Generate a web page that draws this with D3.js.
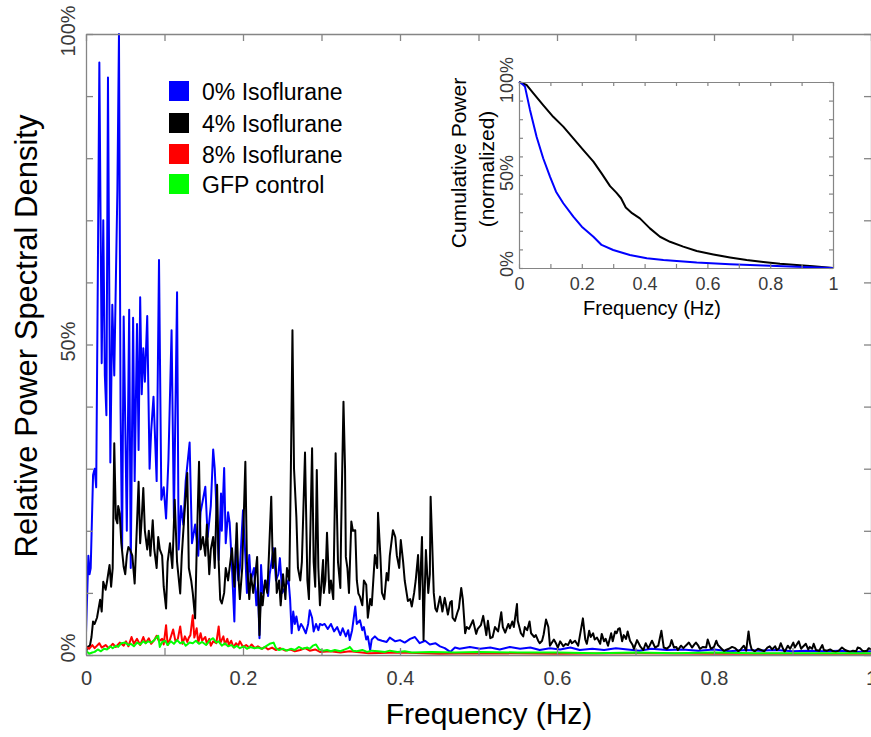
<!DOCTYPE html>
<html><head><meta charset="utf-8">
<script src="https://cdn.jsdelivr.net/npm/d3@7"></script>
<style>
body{margin:0;background:#fff}
svg{display:block}
text{font-family:"Liberation Sans",Arial,Helvetica,sans-serif}
</style>
</head><body>
<svg id="chart" width="871" height="737"></svg>
<script>
// ---------- DATA (frequency in Hz, relative power in %) ----------
const seriesNames = ["0% Isoflurane", "4% Isoflurane", "8% Isoflurane", "GFP control"];
const seriesColors = ["#0000ff", "#000000", "#ff0000", "#00ff00"];

const psd0 = [[0,3.5],[0.003,16],[0.0045,13],[0.006,14],[0.009,29],[0.011,30],[0.013,27],[0.015,60],[0.017,95.4],[0.020,47],[0.022,70],[0.024,45],[0.026,38.6],[0.028,93],[0.031,31],[0.0335,56.4],[0.036,45],[0.038,60],[0.040,75],[0.042,100],[0.044,40],[0.046,17],[0.048,54.5],[0.052,20],[0.055,55.6],[0.057,14],[0.060,54.3],[0.062,28],[0.065,53.3],[0.067,33],[0.069,57.6],[0.071,42],[0.073,49.4],[0.075,44],[0.078,54.6],[0.081,30],[0.083,36],[0.086,41.6],[0.090,28],[0.093,63.6],[0.096,25],[0.099,27],[0.102,22],[0.105,31.4],[0.109,52.3],[0.112,22],[0.116,58.4],[0.118,17],[0.121,24],[0.124,21],[0.127,28],[0.132,34.2],[0.135,18],[0.139,21],[0.143,16],[0.146,23],[0.152,27.1],[0.155,19],[0.159,24],[0.162,33.1],[0.164,30],[0.169,15.3],[0.172,26],[0.173,20],[0.176,30.1],[0.178,18],[0.181,23],[0.183,21.3],[0.186,14],[0.189,5.4],[0.191,18],[0.194,12],[0.196,14],[0.200,23.3],[0.203,16],[0.205,10],[0.208,16.1],[0.210,12],[0.214,14],[0.217,8],[0.219,11],[0.221,2.7],[0.223,14.5],[0.225,10],[0.229,12],[0.232,9.5],[0.234,13],[0.239,17.2],[0.242,12],[0.245,13],[0.247,15.6],[0.250,10],[0.254,11],[0.258,12.1],[0.260,9],[0.262,3.5],[0.264,7],[0.266,5],[0.268,6.2],[0.271,4],[0.274,5],[0.276,4.6],[0.280,3.5],[0.283,5],[0.285,7.2],[0.288,6],[0.290,3.8],[0.293,5],[0.296,4],[0.298,5],[0.301,4.8],[0.304,5],[0.308,4.2],[0.312,5],[0.316,3.8],[0.320,4.5],[0.324,3.2],[0.327,4.3],[0.331,3],[0.334,4],[0.336,2.4],[0.339,4],[0.343,7.8],[0.345,5],[0.349,5.6],[0.352,4],[0.354,4.5],[0.357,2.5],[0.359,3],[0.362,0.8],[0.364,2.5],[0.368,3],[0.372,2.5],[0.377,2.3],[0.383,2.1],[0.387,2.8],[0.394,2.2],[0.400,2.4],[0.406,2.0],[0.413,2.6],[0.419,2.9],[0.425,1.9],[0.432,2.3],[0.438,1.7],[0.445,1.9],[0.451,1.4],[0.457,1.1],[0.464,0.5],[0.470,1.2],[0.476,1.0],[0.489,1.3],[0.502,1.0],[0.515,1.2],[0.527,0.9],[0.540,1.3],[0.553,1.0],[0.566,1.2],[0.578,0.8],[0.591,1.1],[0.604,0.9],[0.617,1.2],[0.629,0.8],[0.645,1.0],[0.660,0.8],[0.675,1.1],[0.690,0.9],[0.705,0.7],[0.720,1.0],[0.740,0.8],[0.760,0.9],[0.780,0.7],[0.800,0.9],[0.820,0.6],[0.840,0.8],[0.860,0.7],[0.880,0.8],[0.900,0.6],[0.920,0.7],[0.940,0.6],[0.960,0.7],[0.980,0.5],[1.000,0.6]];

const psd4 = [[0,0.5],[0.002,1.3],[0.005,1.5],[0.007,2.9],[0.009,5.4],[0.011,5.0],[0.014,6],[0.018,8.9],[0.020,7],[0.022,11.8],[0.025,10.5],[0.027,12],[0.030,14.5],[0.032,11],[0.034,14],[0.036,34.1],[0.038,22],[0.040,21.2],[0.041,24],[0.043,22.8],[0.045,18],[0.048,14.2],[0.050,13],[0.052,16],[0.054,17.4],[0.056,17],[0.059,16],[0.062,11.5],[0.064,18],[0.067,27.9],[0.069,18],[0.071,22],[0.073,26.9],[0.075,20],[0.078,17],[0.080,20],[0.082,16],[0.085,21.7],[0.087,17],[0.090,14],[0.092,19],[0.094,17],[0.097,16],[0.099,11],[0.102,7.5],[0.104,15],[0.107,18],[0.110,14],[0.113,25],[0.116,15],[0.120,9.9],[0.122,16],[0.125,22],[0.129,29.3],[0.131,14],[0.134,12],[0.136,10],[0.139,5.9],[0.141,17],[0.144,31.1],[0.146,17],[0.149,19],[0.152,16],[0.154,21],[0.157,13],[0.159,17],[0.162,19],[0.164,14],[0.167,27.4],[0.169,15],[0.171,8.9],[0.173,8.3],[0.176,10],[0.178,14],[0.181,12],[0.186,17.2],[0.189,11],[0.192,21.2],[0.194,13],[0.196,9],[0.199,14],[0.203,31.1],[0.205,15],[0.208,9],[0.210,13],[0.213,10],[0.215,12],[0.218,15.8],[0.221,3.2],[0.223,10],[0.225,8],[0.228,12],[0.231,10],[0.233,16],[0.236,25.5],[0.238,14],[0.241,17.2],[0.243,10],[0.246,12],[0.248,8],[0.251,13],[0.254,9],[0.256,14],[0.259,12],[0.261,30],[0.263,52.3],[0.265,30],[0.268,22.2],[0.270,14],[0.273,12],[0.275,15],[0.279,32.6],[0.282,12],[0.284,9],[0.288,33.3],[0.290,15],[0.292,11],[0.294,29.8],[0.296,14],[0.298,8],[0.302,15.3],[0.303,10],[0.305,12],[0.307,19.7],[0.310,10],[0.312,12],[0.315,9],[0.318,32.5],[0.321,15],[0.324,10.8],[0.325,20],[0.328,40.8],[0.330,30],[0.331,15.8],[0.333,14],[0.335,10],[0.338,21.5],[0.340,20],[0.343,20.1],[0.345,12],[0.347,9.9],[0.349,9.4],[0.352,8],[0.354,12],[0.357,11.3],[0.359,6],[0.362,9],[0.364,8],[0.368,16.1],[0.371,14],[0.372,22.9],[0.375,16],[0.377,10],[0.380,9],[0.383,13.2],[0.385,12],[0.387,16],[0.391,20.1],[0.394,19],[0.396,16],[0.399,14],[0.401,18.5],[0.404,15],[0.406,12],[0.410,8.7],[0.413,9],[0.415,7.8],[0.418,10],[0.420,12],[0.423,16.1],[0.425,9],[0.428,19],[0.430,2.4],[0.431,8],[0.433,16.9],[0.436,10],[0.438,13],[0.439,25.5],[0.441,18],[0.443,10],[0.445,7.5],[0.447,7],[0.451,9.4],[0.454,7],[0.456,8.5],[0.457,9.2],[0.461,6.5],[0.464,8.5],[0.466,8.7],[0.467,6],[0.470,5.5],[0.473,6.8],[0.475,7.5],[0.478,10.8],[0.480,9],[0.483,3.5],[0.485,4.5],[0.488,4.2],[0.493,5.6],[0.497,3.4],[0.499,4.2],[0.503,4.8],[0.506,6.3],[0.510,3.2],[0.512,5.5],[0.515,2.7],[0.518,2.9],[0.521,4.5],[0.525,3.8],[0.529,6.9],[0.531,4.5],[0.534,3.6],[0.538,5],[0.540,4.3],[0.543,5.4],[0.545,4.5],[0.549,8.2],[0.550,5.5],[0.554,3.5],[0.557,3],[0.559,4.5],[0.562,4],[0.565,5.4],[0.567,3.5],[0.571,2.9],[0.573,3.2],[0.576,2.3],[0.578,1.9],[0.581,2.3],[0.583,3.3],[0.586,5.7],[0.589,4.5],[0.591,1.5],[0.594,2.1],[0.596,2.5],[0.599,1.8],[0.601,1.2],[0.604,2.2],[0.608,1.4],[0.611,1.8],[0.614,1.6],[0.617,2.4],[0.619,1.9],[0.623,2.3],[0.627,1.5],[0.629,3.0],[0.633,5.9],[0.636,2.5],[0.638,1.8],[0.641,3.9],[0.643,2.9],[0.646,3.5],[0.648,2.5],[0.651,2.8],[0.655,1.8],[0.657,3.4],[0.660,2.2],[0.662,2.6],[0.665,1.5],[0.669,3.5],[0.671,2.2],[0.674,3.8],[0.676,3.5],[0.678,4.2],[0.680,4.3],[0.683,2.2],[0.685,3.2],[0.688,2.6],[0.690,3.8],[0.693,2.3],[0.696,1.7],[0.698,1.0],[0.702,2.4],[0.706,1.4],[0.710,0.8],[0.713,1.9],[0.716,1.1],[0.718,1.5],[0.721,2.3],[0.725,1.2],[0.729,1.5],[0.733,3.9],[0.736,1.2],[0.740,1.0],[0.744,1.5],[0.746,2.4],[0.749,1.2],[0.752,1.3],[0.754,0.8],[0.758,1.5],[0.761,1.1],[0.764,1.5],[0.768,2.0],[0.772,1.2],[0.775,1.7],[0.777,2.0],[0.780,1.5],[0.782,1.0],[0.786,1.3],[0.790,1.2],[0.792,2.5],[0.796,1.0],[0.800,1.3],[0.803,2.3],[0.805,1.6],[0.809,1.1],[0.813,0.6],[0.815,0.8],[0.819,1.0],[0.823,1.3],[0.827,1.1],[0.831,0.6],[0.834,0.9],[0.838,1.5],[0.841,0.7],[0.844,3.8],[0.846,1.8],[0.848,0.9],[0.852,0.6],[0.856,1.0],[0.860,0.8],[0.864,0.6],[0.868,1.2],[0.871,1.4],[0.874,0.9],[0.878,1.4],[0.880,0.8],[0.883,1.1],[0.885,1.9],[0.888,1.0],[0.890,0.5],[0.894,1.5],[0.897,1.0],[0.901,2.0],[0.903,1.2],[0.906,1.8],[0.908,2.2],[0.911,1.0],[0.913,1.3],[0.917,1.8],[0.920,0.9],[0.922,1.3],[0.925,1.0],[0.927,1.8],[0.930,0.8],[0.934,0.7],[0.938,1.6],[0.940,0.8],[0.944,0.7],[0.948,0.9],[0.952,0.6],[0.955,0.5],[0.959,0.7],[0.963,1.2],[0.967,0.8],[0.971,0.6],[0.973,0.5],[0.977,0.7],[0.981,0.6],[0.983,1.2],[0.986,1.1],[0.989,0.7],[0.991,0.6],[0.995,0.7],[0.997,1.1],[1.000,0.9]];

const psd8 = [[0,1.3],[0.004,1.0],[0.008,1.6],[0.011,1.1],[0.017,1.9],[0.020,1.2],[0.025,1.6],[0.029,1.1],[0.034,1.8],[0.038,1.3],[0.043,2.0],[0.048,1.5],[0.051,2.2],[0.054,1.4],[0.058,2.9],[0.061,1.8],[0.065,2.6],[0.069,1.6],[0.073,2.9],[0.076,1.9],[0.080,2.7],[0.083,1.8],[0.087,2.4],[0.090,3.1],[0.093,2.2],[0.097,2.6],[0.099,1.7],[0.102,4.8],[0.104,1.6],[0.107,2.5],[0.111,4.1],[0.114,2.2],[0.117,2.6],[0.120,4.6],[0.123,1.8],[0.126,3.0],[0.129,2.1],[0.131,2.8],[0.133,3.2],[0.136,6.4],[0.138,2.8],[0.141,4.3],[0.143,2.0],[0.146,3.5],[0.148,2.3],[0.152,2.9],[0.154,1.8],[0.157,2.6],[0.159,1.5],[0.162,2.2],[0.166,1.9],[0.169,4.6],[0.171,1.9],[0.175,3.0],[0.177,1.7],[0.180,2.6],[0.182,1.6],[0.185,2.3],[0.188,1.2],[0.191,1.9],[0.194,1.5],[0.196,2.2],[0.200,1.3],[0.204,1.6],[0.208,1.2],[0.211,1.7],[0.215,1.1],[0.219,1.4],[0.224,1.0],[0.228,1.3],[0.232,0.9],[0.237,1.2],[0.242,0.8],[0.247,1.1],[0.254,0.7],[0.260,0.9],[0.266,0.6],[0.273,0.8],[0.279,1.1],[0.285,0.7],[0.292,0.9],[0.298,0.5],[0.311,0.6],[0.324,0.4],[0.336,0.6],[0.360,0.3],[0.400,0.4],[0.450,0.2],[0.500,0.3],[0.600,0.2],[0.700,0.3],[0.800,0.2],[0.900,0.2],[1.000,0.2]];

const psdGFP = [[0,0.7],[0.004,0.2],[0.008,0.4],[0.011,0.5],[0.015,0.9],[0.019,0.6],[0.023,1.0],[0.027,0.9],[0.031,1.4],[0.034,1.1],[0.038,1.5],[0.041,1.3],[0.045,1.9],[0.050,2.0],[0.054,1.6],[0.057,1.8],[0.061,1.4],[0.065,2.0],[0.069,1.7],[0.073,2.2],[0.076,1.9],[0.079,2.2],[0.083,2.0],[0.087,2.4],[0.090,2.9],[0.092,3.1],[0.094,1.3],[0.097,2.1],[0.101,2.3],[0.104,1.6],[0.108,2.2],[0.112,1.8],[0.116,2.4],[0.120,1.9],[0.124,2.1],[0.127,1.5],[0.132,2.0],[0.136,1.9],[0.140,2.3],[0.144,1.8],[0.148,2.1],[0.153,1.6],[0.158,2.4],[0.162,2.7],[0.166,2.0],[0.169,2.2],[0.173,1.5],[0.177,1.9],[0.181,1.4],[0.185,1.6],[0.189,1.2],[0.192,1.5],[0.196,1.1],[0.201,1.4],[0.205,1.0],[0.209,1.3],[0.214,1.1],[0.219,1.2],[0.224,1.0],[0.229,1.4],[0.234,1.8],[0.239,2.0],[0.242,1.1],[0.246,0.8],[0.251,1.0],[0.256,0.7],[0.261,1.0],[0.266,0.8],[0.271,1.3],[0.276,1.0],[0.282,1.2],[0.285,1.0],[0.289,1.5],[0.293,1.7],[0.297,0.9],[0.302,0.7],[0.307,0.8],[0.312,0.6],[0.317,0.8],[0.324,0.6],[0.330,0.9],[0.334,1.1],[0.336,1.3],[0.340,0.7],[0.345,0.6],[0.352,0.8],[0.358,0.5],[0.364,0.7],[0.372,0.6],[0.381,0.5],[0.387,0.7],[0.397,0.5],[0.406,0.6],[0.415,0.4],[0.440,0.5],[0.470,0.4],[0.500,0.5],[0.550,0.4],[0.600,0.4],[0.650,0.3],[0.700,0.4],[0.750,0.3],[0.800,0.4],[0.850,0.3],[0.900,0.3],[0.950,0.3],[1.000,0.3]];

// Inset: cumulative power (normalized, %)
const cum0 = [[0,100],[0.010,99],[0.019,97.5],[0.035,85],[0.056,70.6],[0.077,59],[0.099,49],[0.118,41],[0.141,34.8],[0.173,27.6],[0.200,22.2],[0.237,16.8],[0.263,12.4],[0.300,9.7],[0.353,7],[0.407,5.2],[0.460,4.3],[0.566,2.9],[0.672,2],[0.778,1.3],[0.884,0.7],[1,0]];
const cum4 = [[0,100],[0.024,98.4],[0.046,93.9],[0.077,87.6],[0.109,81.3],[0.141,76],[0.173,69.7],[0.205,63.4],[0.237,57.2],[0.263,50.9],[0.290,44],[0.310,40.5],[0.325,37.5],[0.340,32.5],[0.360,29.5],[0.385,26.7],[0.417,21.3],[0.449,16.8],[0.481,14.1],[0.523,11.5],[0.566,9.1],[0.619,7.3],[0.672,5.7],[0.725,4.3],[0.778,3.2],[0.831,2.3],[0.884,1.6],[0.937,0.9],[1,0]];

const xTicks = [0,0.1,0.2,0.3,0.4,0.5,0.6,0.7,0.8,0.9,1];
const xTickLabels = ["0","","0.2","","0.4","","0.6","","0.8","","1"];
const yTicks = [0,10,20,30,40,50,60,70,80,90,100];
const yLabelTicks = [0,50,100];
const yTickLabels = ["0%","50%","100%"];

// ---------- DRAWING ----------
const svg = d3.select("#chart");
const axisColor = "#858585";
const labelColor = "#3a3a3a";

const x = d3.scaleLinear().domain([0,1]).range([86,871]);
const y = d3.scaleLinear().domain([0,100]).range([655,34]);

svg.append("defs").append("clipPath").attr("id","mainClip")
  .append("rect").attr("x",86).attr("y",33).attr("width",785).attr("height",623);

const line = d3.line().x(d=>x(d[0])).y(d=>y(d[1]));
const gData = svg.append("g").attr("clip-path","url(#mainClip)");
[psd0, psd4, psd8, psdGFP].forEach((s,i)=>{
  gData.append("path").datum(s).attr("d",line)
    .attr("fill","none").attr("stroke",seriesColors[i])
    .attr("stroke-width",2).attr("stroke-linejoin","round");
});

function styleAxis(g){
  g.selectAll(".domain").attr("stroke",axisColor).attr("stroke-width",1.3);
  g.selectAll(".tick line").attr("stroke",axisColor).attr("stroke-width",1.3);
}

const gB = svg.append("g").attr("transform","translate(0,655)")
  .call(d3.axisBottom(x).tickValues(xTicks).tickSize(-7).tickSizeOuter(0).tickPadding(16)
    .tickFormat((d,i)=>xTickLabels[i]));
styleAxis(gB);
gB.selectAll("text").attr("font-size",20).attr("fill",labelColor)
  .attr("font-family","'Liberation Sans',Arial,sans-serif");
const gT = svg.append("g").attr("transform","translate(0,34)")
  .call(d3.axisTop(x).tickValues(xTicks).tickSize(-7).tickSizeOuter(0).tickFormat(""));
styleAxis(gT);
const gL = svg.append("g").attr("transform","translate(86,0)")
  .call(d3.axisLeft(y).tickValues(yTicks).tickSize(-7).tickSizeOuter(0).tickFormat(""));
styleAxis(gL);
const gR = svg.append("g").attr("transform","translate(871,0)")
  .call(d3.axisRight(y).tickValues(yTicks).tickSize(-7).tickSizeOuter(0).tickFormat(""));
styleAxis(gR);

yLabelTicks.forEach((v,i)=>{
  svg.append("text")
    .attr("transform",`translate(75,${y(v)-(v===0?7:3)}) rotate(-90)`)
    .attr("text-anchor","middle").attr("font-size",20).attr("fill",labelColor)
    .text(yTickLabels[i]);
});

svg.append("text").attr("transform","translate(37,336) rotate(-90)")
  .attr("text-anchor","middle").attr("font-size",31).attr("fill","#000")
  .text("Relative Power Spectral Density");
svg.append("text").attr("x",489).attr("y",724)
  .attr("text-anchor","middle").attr("font-size",30).attr("fill","#000")
  .text("Frequency (Hz)");

const legY = [81,113,144,174];
seriesNames.forEach((n,i)=>{
  svg.append("rect").attr("x",169).attr("y",legY[i]).attr("width",20).attr("height",20)
    .attr("fill",seriesColors[i]);
  svg.append("text").attr("x",202).attr("y",legY[i]+19).attr("font-size",23)
    .attr("fill","#000").text(n);
});

// ---------- INSET ----------
const xi = d3.scaleLinear().domain([0,1]).range([519,833]);
const yi = d3.scaleLinear().domain([0,100]).range([268,82]);
svg.append("rect").attr("x",519).attr("y",82).attr("width",314).attr("height",186)
  .attr("fill","#fff").attr("stroke","none");

const lineI = d3.line().x(d=>xi(d[0])).y(d=>yi(d[1]));
svg.append("path").datum(cum4).attr("d",lineI).attr("fill","none")
  .attr("stroke","#000").attr("stroke-width",2).attr("stroke-linejoin","round");
svg.append("path").datum(cum0).attr("d",lineI).attr("fill","none")
  .attr("stroke","#0000ff").attr("stroke-width",2).attr("stroke-linejoin","round");

function styleInset(g){
  g.selectAll(".domain").attr("stroke",axisColor).attr("stroke-width",1.2);
  g.selectAll(".tick line").attr("stroke",axisColor).attr("stroke-width",1.2);
}
const giB = svg.append("g").attr("transform","translate(0,268)")
  .call(d3.axisBottom(xi).tickValues(xTicks).tickSize(-4).tickSizeOuter(0).tickPadding(9)
    .tickFormat((d,i)=>xTickLabels[i]));
styleInset(giB);
giB.selectAll("text").attr("font-size",18).attr("fill",labelColor)
  .attr("font-family","'Liberation Sans',Arial,sans-serif");
const giT = svg.append("g").attr("transform","translate(0,82)")
  .call(d3.axisTop(xi).tickValues(xTicks).tickSize(-4).tickSizeOuter(0).tickFormat(""));
styleInset(giT);
const giL = svg.append("g").attr("transform","translate(519,0)")
  .call(d3.axisLeft(yi).tickValues(yTicks).tickSize(-4).tickSizeOuter(0).tickFormat(""));
styleInset(giL);
const giR = svg.append("g").attr("transform","translate(833,0)")
  .call(d3.axisRight(yi).tickValues(yTicks).tickSize(-4).tickSizeOuter(0).tickFormat(""));
styleInset(giR);

yLabelTicks.forEach((v,i)=>{
  svg.append("text")
    .attr("transform",`translate(513,${yi(v)-(v===0?4:2)}) rotate(-90)`)
    .attr("text-anchor","middle").attr("font-size",18).attr("fill",labelColor)
    .text(yTickLabels[i]);
});
svg.append("text").attr("transform","translate(466,163) rotate(-90)")
  .attr("text-anchor","middle").attr("font-size",21).attr("fill","#000")
  .text("Cumulative Power");
svg.append("text").attr("transform","translate(494,169) rotate(-90)")
  .attr("text-anchor","middle").attr("font-size",21).attr("fill","#000")
  .text("(normalized)");
svg.append("text").attr("x",652).attr("y",315)
  .attr("text-anchor","middle").attr("font-size",20).attr("fill","#000")
  .text("Frequency (Hz)");
</script>
</body></html>
